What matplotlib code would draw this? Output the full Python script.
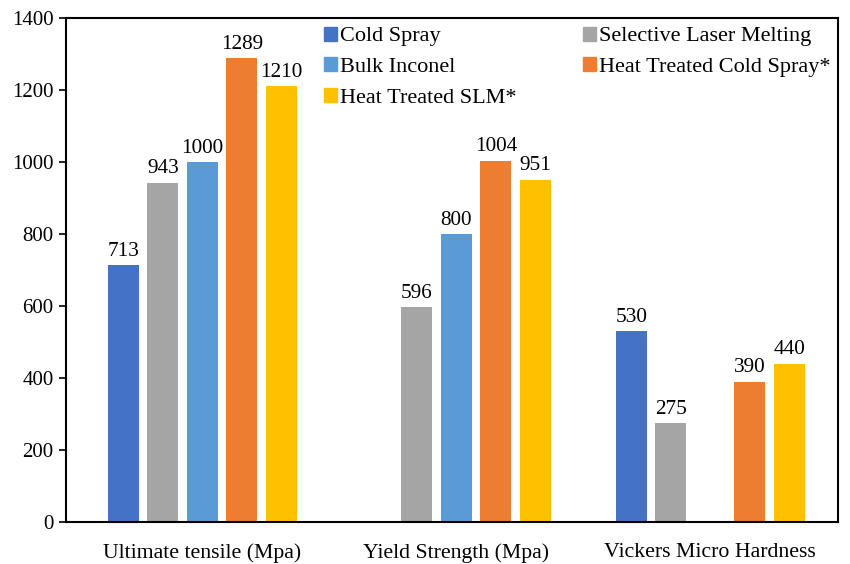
import matplotlib
matplotlib.use("Agg")
import matplotlib.pyplot as plt
import numpy as np

categories = ["Ultimate tensile (Mpa)", "Yield Strength (Mpa)", "Vickers Micro Hardness"]
series_names = ["Cold Spray", "Selective Laser Melting", "Bulk Inconel",
                "Heat Treated Cold Spray*", "Heat Treated SLM*"]
cold_spray = [713, None, 530]
slm = [943, 596, 275]
bulk = [1000, 800, None]
ht_cold_spray = [1289, 1004, 390]
ht_slm = [1210, 951, 440]
series = [cold_spray, slm, bulk, ht_cold_spray, ht_slm]
colors = ["#4472C4", "#A5A5A5", "#5B9BD5", "#ED7D31", "#FFC000"]
yticks = [0, 200, 400, 600, 800, 1000, 1200, 1400]

plt.rcParams['font.family'] = ['Liberation Serif', 'DejaVu Serif']

fig = plt.figure(figsize=(8.5, 5.64), dpi=100)
ax = fig.add_axes([0.0776, 0.0745, 0.9084, 0.8935])

x = np.arange(len(categories))
step = 0.1555
width = 0.122
handles = []
for i, (vals, col, name) in enumerate(zip(series, colors, series_names)):
    off = (i - 2) * step
    for j, v in enumerate(vals):
        if v is None:
            continue
        ax.bar(x[j] + off, v, width=width, color=col)
        ax.text(x[j] + off, v + 12, str(v), ha='center', va='bottom', fontsize=15.3)
    handles.append(plt.Rectangle((0, 0), 1, 1, color=col, label=name))

ax.set_xlim(-0.537, 2.503)
ax.set_ylim(0, 1400)
ax.set_yticks(yticks)
ax.set_xticks(x)
ax.set_xticklabels(categories, fontsize=15.7)
ax.tick_params(axis='y', labelsize=15, length=5, width=1.2, direction='out', pad=4)
ax.tick_params(axis='x', length=0, pad=15)
for s in ax.spines.values():
    s.set_linewidth(1.5)
    s.set_color('black')

order = [0, 2, 4, 1, 3]
leg = ax.legend([handles[k] for k in order], [series_names[k] for k in order],
                ncol=2, loc='upper left', bbox_to_anchor=(0.3134, 1.014),
                frameon=False, fontsize=16, handlelength=0.59, handleheight=0.59,
                handletextpad=0.14, columnspacing=3.0, labelspacing=0.5,
                borderaxespad=0.3)

fig.savefig("out.png", dpi=100)
